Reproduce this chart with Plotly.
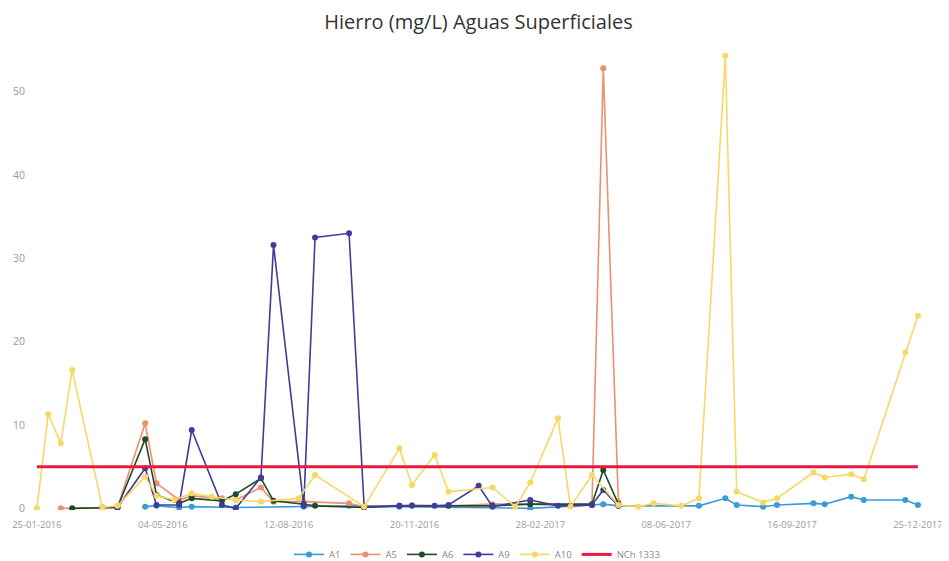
import plotly.graph_objects as go

title = "Hierro (mg/L) Aguas Superficiales"

a1_dates = ["2016-04-20", "2016-04-29", "2016-05-17", "2016-05-27", "2016-07-01", "2016-08-24",
            "2016-09-29", "2016-11-08", "2017-02-20", "2017-04-10", "2017-04-19", "2017-05-01",
            "2017-07-04", "2017-07-25", "2017-08-03", "2017-08-24", "2017-09-04", "2017-10-03",
            "2017-10-12", "2017-11-02", "2017-11-12", "2017-12-15", "2017-12-25"]
a1_vals = [0.2, 0.3, 0.1, 0.2, 0.1, 0.2, 0.3, 0.2, 0.0, 0.4, 0.5, 0.3,
           0.3, 1.2, 0.4, 0.2, 0.4, 0.6, 0.5, 1.4, 1.0, 1.0, 0.4]

a5_dates = ["2016-02-13", "2016-03-17", "2016-03-29", "2016-04-20", "2016-04-29", "2016-05-17",
            "2016-05-27", "2016-06-20", "2016-07-01", "2016-07-21", "2016-07-31", "2016-08-24",
            "2016-09-29", "2016-10-11", "2016-11-18", "2016-12-17", "2017-01-21", "2017-02-20",
            "2017-03-24", "2017-04-10", "2017-04-19", "2017-05-01"]
a5_vals = [0.0, 0.1, 0.1, 10.2, 3.0, 1.0, 1.5, 1.2, 1.0, 2.5, 0.8, 0.8,
           0.6, 0.2, 0.4, 0.3, 0.5, 0.5, 0.3, 0.4, 52.8, 0.8]

a6_dates = ["2016-02-22", "2016-03-17", "2016-03-29", "2016-04-20", "2016-04-29", "2016-05-17",
            "2016-05-27", "2016-06-20", "2016-07-01", "2016-07-21", "2016-07-31", "2016-08-24",
            "2016-09-02", "2016-10-11", "2016-11-08", "2016-12-17", "2017-01-21", "2017-02-20",
            "2017-04-10", "2017-04-19", "2017-05-01"]
a6_vals = [0.0, 0.1, 0.1, 8.3, 1.6, 0.6, 1.2, 0.9, 1.7, 3.6, 0.9, 0.5,
           0.3, 0.1, 0.3, 0.3, 0.3, 0.5, 0.5, 4.6, 0.5]

a9_dates = ["2016-03-29", "2016-04-20", "2016-04-29", "2016-05-17", "2016-05-27", "2016-06-20",
            "2016-07-01", "2016-07-21", "2016-07-31", "2016-08-24", "2016-09-02", "2016-09-29",
            "2016-10-11", "2016-11-08", "2016-11-18", "2016-12-06", "2016-12-17", "2017-01-10",
            "2017-01-21", "2017-02-20", "2017-03-14", "2017-03-24", "2017-04-10", "2017-04-19",
            "2017-05-01"]
a9_vals = [0.1, 4.8, 0.4, 0.4, 9.4, 0.4, 0.0, 3.7, 31.6, 0.3, 32.5, 33.0,
           0.2, 0.3, 0.3, 0.3, 0.4, 2.7, 0.2, 1.0, 0.3, 0.3, 0.4, 2.2,
           0.3]

a10_dates = ["2016-01-25", "2016-02-03", "2016-02-13", "2016-02-22", "2016-03-17", "2016-03-29",
             "2016-04-20", "2016-04-29", "2016-05-13", "2016-05-27", "2016-06-12", "2016-07-01",
             "2016-07-21", "2016-08-20", "2016-09-02", "2016-10-11", "2016-11-08", "2016-11-18",
             "2016-12-06", "2016-12-17", "2017-01-21", "2017-02-08", "2017-02-20", "2017-03-14",
             "2017-03-24", "2017-04-10", "2017-05-01", "2017-05-17", "2017-05-29", "2017-06-20",
             "2017-07-04", "2017-07-25", "2017-08-03", "2017-08-24", "2017-09-04", "2017-10-03",
             "2017-10-12", "2017-11-02", "2017-11-12", "2017-12-15", "2017-12-25"]
a10_vals = [0.0, 11.3, 7.8, 16.6, 0.1, 0.3, 3.8, 1.5, 1.0, 1.8, 1.4, 1.0,
            0.8, 1.2, 4.0, 0.2, 7.2, 2.8, 6.4, 2.0, 2.5, 0.2, 3.1, 10.8,
            0.2, 4.0, 0.4, 0.2, 0.6, 0.3, 1.2, 54.3, 2.0, 0.7, 1.2, 4.3,
            3.7, 4.1, 3.5, 18.7, 23.1]

norma_dates = ["2016-01-25", "2017-12-25"]
norma_vals = [5, 5]

series = [
    ("A1", a1_dates, a1_vals, "#3b9ad9"),
    ("A5", a5_dates, a5_vals, "#ee8f6e"),
    ("A6", a6_dates, a6_vals, "#1f4a28"),
    ("A9", a9_dates, a9_vals, "#3f3c9c"),
    ("A10", a10_dates, a10_vals, "#f6d964"),
]

fig = go.Figure()
for name, d, v, c in series:
    fig.add_trace(go.Scatter(x=d, y=v, name=name, mode="lines+markers",
                             line=dict(color=c, width=1.6),
                             marker=dict(color=c, size=6)))
fig.add_trace(go.Scatter(x=norma_dates, y=norma_vals, name="NCh 1333", mode="lines",
                         line=dict(color="#e8193f", width=3)))

# page has an 8px body margin, so the figure is sized to fit the 949x561 window
fig.update_layout(
    width=941, height=553,
    paper_bgcolor="white", plot_bgcolor="white",
    margin=dict(l=22, r=25, t=42, b=51, autoexpand=False),
    title=dict(text=title, x=0.5, xanchor="center", y=0.974, yanchor="middle",
               font=dict(family="Open Sans, sans-serif", size=20, color="#333")),
    font=dict(family="Open Sans, sans-serif", size=10, color="#9a9a9a"),
    showlegend=True,
    legend=dict(orientation="h", x=0.5, xanchor="center", y=-0.065, yanchor="top",
                font=dict(size=9.5, color="#888"), itemwidth=30),
    xaxis=dict(type="date", range=["2016-01-19 12:00", "2017-12-29 20:00"],
               tick0="2016-01-25", dtick=100 * 86400000, tickformat="%d-%m-%Y",
               showgrid=False, zeroline=False, showline=False,
               ticks="outside", ticklen=6, tickcolor="rgba(0,0,0,0)", automargin=False,
               tickfont=dict(size=9.5, color="#9a9a9a")),
    yaxis=dict(range=[-0.2, 55], tick0=0, dtick=10, showgrid=False, zeroline=False,
               showline=False, ticks="outside", ticklen=2, tickcolor="rgba(0,0,0,0)",
               automargin=False, tickfont=dict(size=10.5, color="#9a9a9a")),
)

fig.write_html("out.html")
